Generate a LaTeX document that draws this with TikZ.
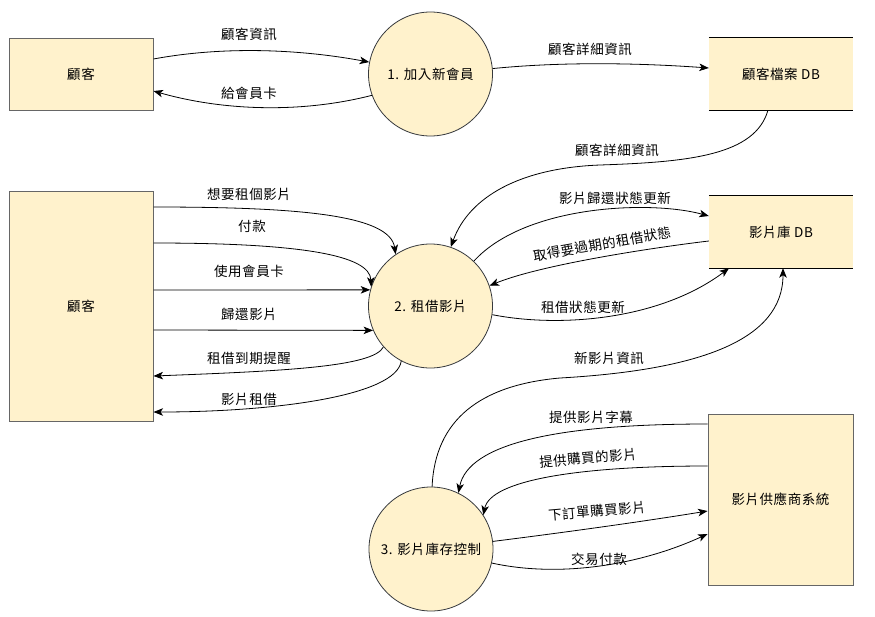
\documentclass[tikz,border=0pt]{standalone}
\usepackage{fontspec}
\setmainfont{Noto Sans CJK TC}[LetterSpace=4]
\usetikzlibrary{arrows.meta,calc}
\definecolor{boxfill}{HTML}{FFF2CC}
\definecolor{boxline}{HTML}{666666}
\definecolor{circline}{HTML}{36393D}
\begin{document}
\begin{tikzpicture}[x=1pt,y=-1pt,
  every node/.append style={font=\fontsize{13.5}{16}\selectfont},
  ent/.style={rectangle,draw=boxline,fill=boxfill,line width=1pt,inner sep=0pt,minimum width=144pt},
  proc/.style={circle,draw=circline,fill=boxfill,line width=0.8pt,minimum size=124pt,inner sep=0pt},
  store/.style={rectangle,fill=boxfill,inner sep=0pt,minimum width=144pt,minimum height=72pt},
  storeline/.style={draw=black,line width=1pt},
  flow/.style={draw=black,line width=0.8pt,-{Stealth[length=9.5pt,width=7.5pt,inset=2.5pt]}},
  lbl/.style={inner sep=1pt}]
\fill[white] (0,0) rectangle (875,616);
\useasboundingbox (0,0) rectangle (875,616);

% nodes
\node[ent,minimum height=72pt] (cust1) at (81,74) {顧客};
\node[proc] (c1) at (430.5,74) {1. 加入新會員};
\node[store] (db1) at (781,74) {顧客檔案 DB};
\node[ent,minimum height=230pt] (cust2) at (81,306) {顧客};
\node[proc] (c2) at (430.5,306) {2. 租借影片};
\node[store] (db2) at (781,232) {影片庫 DB};
\node[proc] (c3) at (431,549) {3. 影片庫存控制};
\node[ent,minimum width=145pt,minimum height=171pt] (sup) at (780.5,499.5) {影片供應商系統};

\draw[storeline] (db1.north west) -- (db1.north east) (db1.south west) -- (db1.south east);
\draw[storeline] (db2.north west) -- (db2.north east) (db2.south west) -- (db2.south east);

% flows around process 1
\draw[flow] ([yshift=15pt]cust1.east) .. controls +(70,-13) and +(-70,-13) .. (c1.169);
\draw[flow] (c1.200) .. controls +(-70,18) and +(70,20) .. ([yshift=-17pt]cust1.east);
\draw[flow] (c1.5) .. controls +(70,-7) and +(-70,-5) .. ([yshift=6pt]db1.west);
\draw[flow] ([xshift=-13pt]db1.south) .. controls +(-13,45) and +(90,-3) .. (600,165) .. controls +(-80,3) and +(18,-50) .. (c2.71);

% flows around process 2
\draw[flow] (c2.46) .. controls (525,205) and (650,200) .. ([yshift=16pt]db2.west);
\draw[flow] ([yshift=-9pt]db2.west) .. controls (650,248) and (540,265) .. (c2.19);
\draw[flow] (c2.352) .. controls (560,328) and (660,320) .. ([xshift=-52pt]db2.south);
\draw[flow] ([yshift=99pt]cust2.east) .. controls (300,207) and (390,215) .. (c2.124);
\draw[flow] ([yshift=63pt]cust2.east) .. controls (300,243) and (370,255) .. (c2.162);
\draw[flow] ([yshift=16pt]cust2.east) -- (c2.165);
\draw[flow] ([yshift=-24pt]cust2.east) -- (c2.203);
\draw[flow] (c2.221) .. controls +(-10,20) and +(130,-5) .. ([yshift=-70pt]cust2.east);
\draw[flow] (c2.242) .. controls +(-5,35) and +(120,0) .. ([yshift=-106pt]cust2.east);

% flows around process 3
\draw[flow] (c3.89) .. controls (435,420) and (480,385) .. (560,378) .. controls (700,370) and (783,340) .. ([xshift=2pt]db2.south);
\draw[flow] ([yshift=75.5pt]sup.west) .. controls +(-148,0) and +(10,-50) .. (c3.64);
\draw[flow] ([yshift=33.5pt]sup.west) .. controls +(-128,0) and +(7,-35) .. (c3.33);
\draw[flow] (c3.7) .. controls (560,533) and (640,522) .. ([yshift=-11.5pt]sup.west);
\draw[flow] (c3.347) .. controls (560,578) and (640,565) .. ([yshift=-34.5pt]sup.west);

% labels
\node[lbl] (l1) at (249,34) {顧客資訊};
\node[lbl] (l2) at (249,93) {給會員卡};
\node[lbl] (l3) at (590,49) {顧客詳細資訊};
\node[lbl] (l4) at (617,150) {顧客詳細資訊};
\node[lbl] (l5) at (615,198) {影片歸還狀態更新};
\node[lbl,rotate=10] (l6) at (602,244) {取得要過期的租借狀態};
\node[lbl] (l7) at (583,307) {租借狀態更新};
\node[lbl] (l8) at (609,358) {新影片資訊};
\node[lbl] (l9) at (249,194) {想要租個影片};
\node[lbl] (l10) at (252,226) {付款};
\node[lbl] (l11) at (249,271) {使用會員卡};
\node[lbl] (l12) at (249,314) {歸還影片};
\node[lbl] (l13) at (249,358) {租借到期提醒};
\node[lbl] (l14) at (249,399) {影片租借};
\node[lbl] (l15) at (591,417) {提供影片字幕};
\node[lbl,rotate=5] (l16) at (588,458) {提供購買的影片};
\node[lbl,rotate=5] (l17) at (597,511) {下訂單購買影片};
\node[lbl] (l18) at (599,559) {交易付款};
\end{tikzpicture}
\end{document}
